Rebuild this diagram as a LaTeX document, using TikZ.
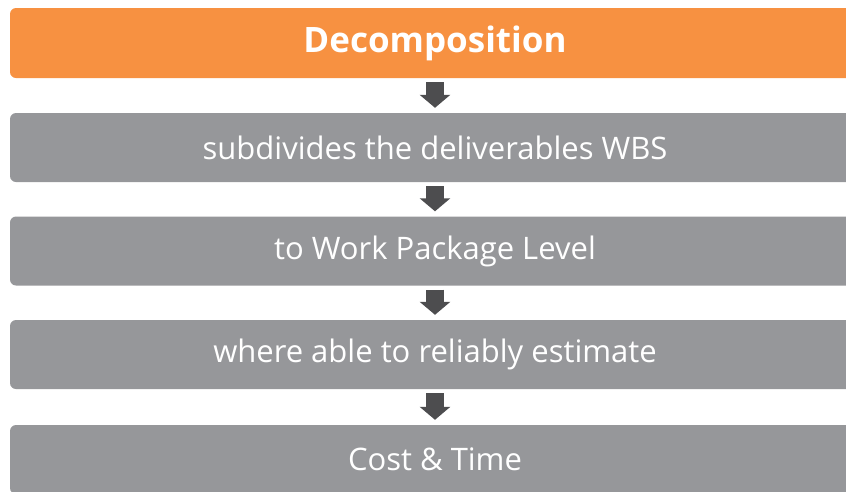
\documentclass[tikz,border=0pt]{standalone}
\usepackage{fontspec}
\setmainfont{Open Sans}
\usetikzlibrary{arrows.meta}
\definecolor{decoOrange}{HTML}{F79141}
\definecolor{levelGray}{HTML}{96979A}
\definecolor{arrowDark}{HTML}{4D4D4F}

\begin{document}
\begin{tikzpicture}[x=1pt,y=-1pt,
  levelbox/.style={fill=levelGray, rounded corners=6pt, minimum width=850pt,
    minimum height=69pt, inner sep=0pt, text=white,
    font=\fontsize{31}{36}\selectfont},
  flowarrow/.style={draw=arrowDark, line width=18pt, shorten <=4pt, shorten >=5pt,
    -{Triangle[width=30pt,length=13pt]}}]
  \useasboundingbox (0,0) rectangle (846,491);
  \clip (0,0) rectangle (846,491);

  % Title
  \node[levelbox, fill=decoOrange, minimum height=70pt,
    font=\fontsize{35}{40}\selectfont\bfseries] (decomp) at (435,43) {Decomposition};

  % Levels
  \node[levelbox] (wbs) at (435,147.5) {subdivides the deliverables WBS};
  \node[levelbox] (package) at (435,251) {to Work Package Level};
  \node[levelbox] (estimate) at (435,354.5) {where able to reliably estimate};
  \node[levelbox] (costtime) at (435,459.5) {Cost \& Time};

  % Arrows
  \foreach \from/\to in {decomp/wbs, wbs/package, package/estimate, estimate/costtime} {
    \draw[flowarrow] (\from.south) -- (\to.north);
  }
\end{tikzpicture}
\end{document}
